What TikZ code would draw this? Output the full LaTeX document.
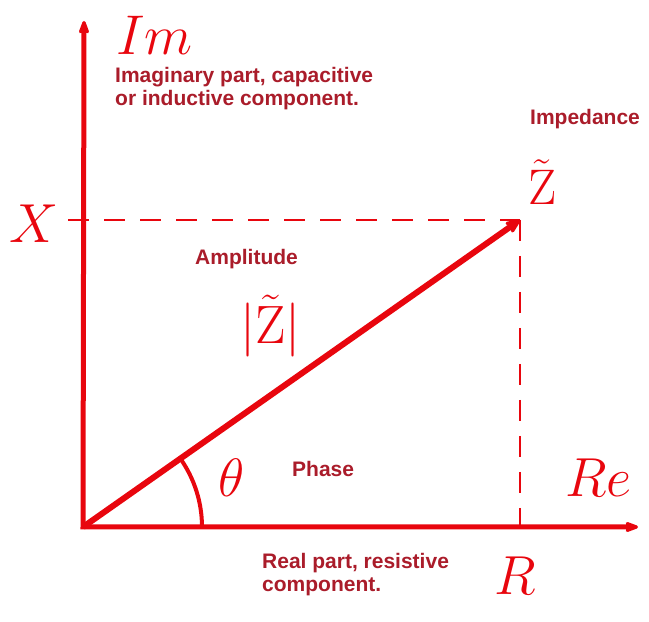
\RequirePackage{fix-cm}
\documentclass[tikz,border=0pt]{standalone}
\usepackage{amsmath}
\usepackage{fontspec}
\newfontfamily\notefont{Liberation Sans}
\usetikzlibrary{arrows.meta}

\definecolor{axisred}{RGB}{232,6,14}
\definecolor{notered}{RGB}{170,28,42}

\begin{document}
\begin{tikzpicture}[x=1pt,y=1pt,
  axis/.style={draw=axisred,line width=5pt,line join=miter},
  guide/.style={draw=axisred,line width=2.6pt,dash pattern=on 21pt off 15pt},
  note/.style={text=notered,font=\notefont\bfseries\fontsize{21}{23}\selectfont,
    inner sep=0pt,anchor=base west,align=left},
  big/.style={text=axisred,font=\fontsize{56}{60}\selectfont,inner sep=0pt,anchor=base west}]
  \useasboundingbox (0,0) rectangle (649,622);

  \coordinate (O) at (83,95);
  \coordinate (ImTip) at (84,601);
  \coordinate (ReTip) at (638,95);
  \coordinate (Z) at (520,402);
  \coordinate (Xd) at (68,402);
  \coordinate (Rd) at (519,79);

  % axes and the phasor
  \draw[axis,{Stealth[length=19pt,width=14pt,round]}-{Stealth[length=19pt,width=14pt,round]}] (ImTip) -- (O) -- (ReTip);
  \draw[guide] (Xd) -- (Z);
  \draw[guide] (Z) -- (Z |- Rd);
  \draw[axisred,line width=6pt,-{Stealth[length=20pt,width=17pt,round]}] (O) -- (Z);
  \draw[axisred,line width=4pt] (O) ++(0:119) arc[start angle=0,end angle=35.1,radius=119];

  % labels
  \node[big] (im) at (116,567) {$Im$};
  \node[note] (imnote) at (115,516) {Imaginary part, capacitive\\or inductive component.};
  \node[note] (imp) at (530,497) {Impedance};
  \node[big,font=\fontsize{50}{54}\selectfont] (zt) at (528,417) {$\tilde{\mathrm{Z}}$};
  \node[big,font=\fontsize{55}{60}\selectfont] (xl) at (9,379) {$X$};
  \node[note] (amp) at (195,357) {Amplitude};
  \node[big,font=\fontsize{54}{58}\selectfont] (mag) at (240,278) {$|\tilde{\mathrm{Z}}|$};
  \node[big,anchor=center,font=\fontsize{54}{58}\selectfont] (th) at (232,144) {$\theta$};
  \node[note] (ph) at (292,145) {Phase};
  \node[big,font=\fontsize{55}{60}\selectfont] (re) at (565,125) {$Re$};
  \node[big,font=\fontsize{55}{60}\selectfont] (rl) at (494,27) {$R$};
  \node[note] (renote) at (262,30) {Real part, resistive\\component.};
\end{tikzpicture}
\end{document}
